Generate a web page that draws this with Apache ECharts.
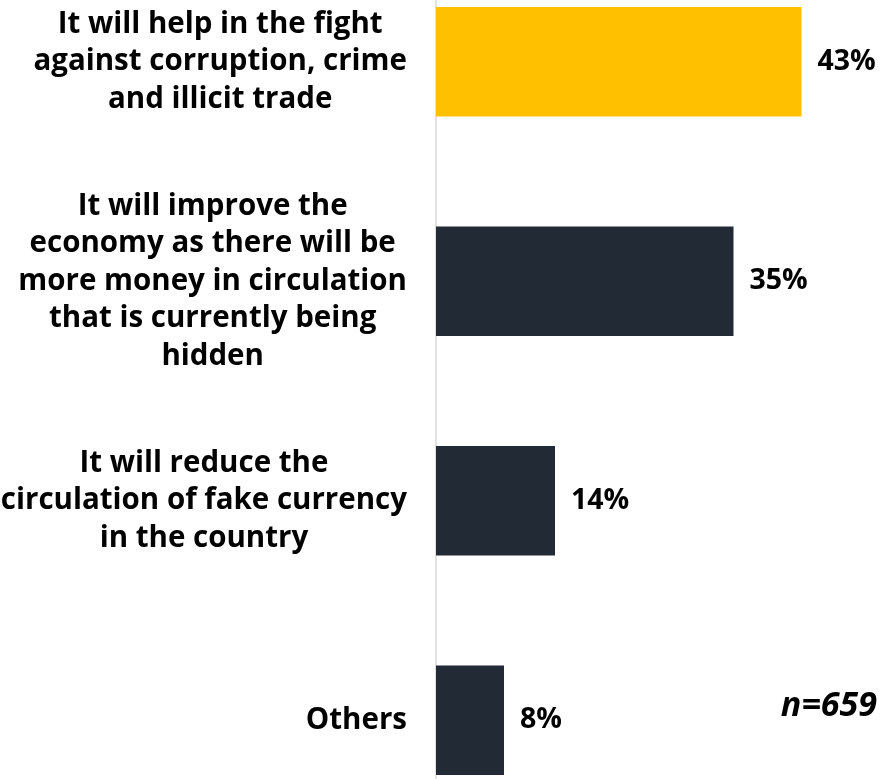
<!DOCTYPE html>
<html>
<head>
<meta charset="utf-8">
<script src="https://cdn.jsdelivr.net/npm/echarts@6/dist/echarts.min.js"></script>
<style>
  html, body { margin: 0; padding: 0; background: #ffffff; }
  #chart { width: 885px; height: 779px; }
</style>
</head>
<body>
<div id="chart"></div>
<script>
// Survey responses: perceived benefits
const categories = [
  'It will help in the fight\nagainst corruption, crime\nand illicit trade',
  'It will improve the\neconomy as there will be\nmore money in circulation\nthat is currently being\nhidden',
  'It will reduce the\ncirculation of fake currency\nin the country',
  'Others'
];
const shares = [43, 35, 14, 8];
const barColors = ['#FFC000', '#222A35', '#222A35', '#222A35'];
const sampleNote = 'n=659';

const FONT = '"Open Sans"';

const chart = echarts.init(document.getElementById('chart'), null, { renderer: 'canvas' });

chart.setOption({
  animation: false,
  backgroundColor: '#ffffff',
  grid: {
    left: 436, width: 425, top: -48, bottom: -51,
    containLabel: false,
    outerBoundsMode: 'none'
  },
  xAxis: {
    type: 'value',
    min: 0,
    max: 50,
    show: false
  },
  yAxis: {
    type: 'category',
    inverse: true,
    data: categories,
    axisLine: { show: true, lineStyle: { color: '#D9D9D9', width: 1.5 } },
    axisTick: { show: false },
    splitLine: { show: false },
    axisLabel: {
      margin: 29,
      align: 'right',
      formatter: function (v) {
        return v.split('\n').map(function (s) { return '{c|' + s + '}'; }).join('\n');
      },
      rich: {
        c: {
          align: 'center',
          fontFamily: FONT,
          fontWeight: 'bold',
          fontSize: 29.5,
          lineHeight: 37.5,
          color: '#000000'
        }
      }
    }
  },
  series: [{
    type: 'bar',
    barWidth: 109.5,
    data: shares.map(function (v, i) {
      return { value: v, itemStyle: { color: barColors[i] } };
    }),
    label: {
      show: true,
      position: 'right',
      distance: 16,
      formatter: '{c}%',
      fontFamily: FONT,
      fontWeight: 'bold',
      fontSize: 28.5,
      color: '#000000'
    }
  }],
  graphic: [{
    type: 'text',
    x: 877,
    y: 706,
    style: {
      text: sampleNote,
      align: 'right',
      verticalAlign: 'middle',
      fontFamily: FONT,
      fontWeight: 'bold',
      fontStyle: 'italic',
      fontSize: 34,
      fill: '#000000'
    }
  }]
});
</script>
</body>
</html>
